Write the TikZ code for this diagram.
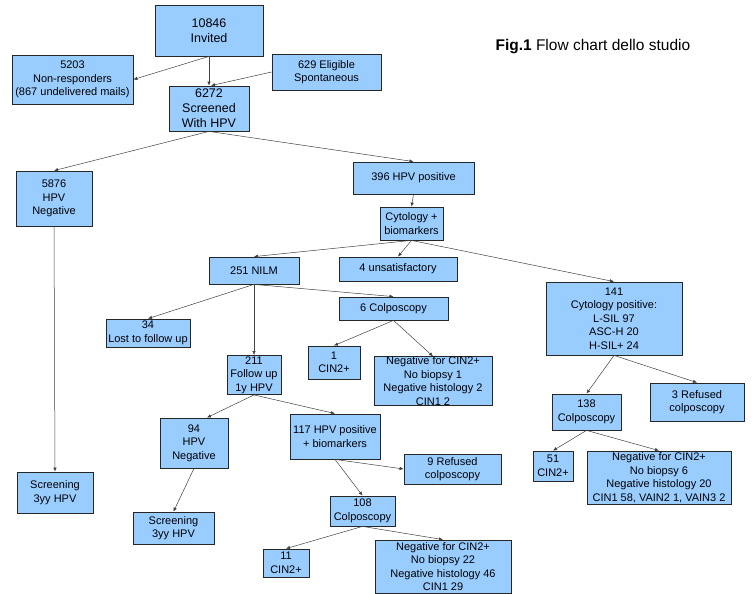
\documentclass[tikz,border=0pt]{standalone}
\usepackage{fontspec}
\setmainfont{Liberation Sans}
\usetikzlibrary{arrows.meta}

\definecolor{boxblue}{RGB}{153,204,255}

\tikzset{
  box/.style={draw=black!85, fill=boxblue, line width=0.8pt, align=center,
    inner sep=0pt, font=\fontsize{11}{13.5}\selectfont},
  bigbox/.style={box, font=\fontsize{12.5}{15}\selectfont},
  wh/.style 2 args={minimum width=#1pt, minimum height=#2pt},
  flow/.style={-{Latex[length=4pt,width=3.5pt]}, draw=black!75, line width=0.5pt},
}

\begin{document}
\begin{tikzpicture}[x=1pt,y=-1pt]
        \useasboundingbox (0,0) rectangle (755,594);

        % invitation and screening
        \node[bigbox, wh={108}{51}] (invited) at (209,30.5) {10846\\Invited};
        \node[box, wh={121}{49}] (nonresp) at (72.5,79.5) {5203\\Non-responders\\(867 undelivered mails)};
        \node[box, wh={109}{36}] (eligible) at (326.5,72) {629 Eligible\\Spontaneous};
        \node[bigbox, wh={80}{45}] (screened) at (209,108.5) {6272\\Screened\\With HPV};
        \node[anchor=west, font=\fontsize{15.5}{18}\selectfont] (caption) at (492,47) {\textbf{Fig.1} Flow chart dello studio};

        % HPV result
        \node[box, wh={76}{55}] (hpvneg) at (54,198.5) {5876\\HPV\\Negative};
        \node[box, wh={76}{41}] (screenA) at (55,492.5) {Screening\\3yy HPV};
        \node[box, wh={121}{32}] (hpvpos) at (413.5,178) {396 HPV positive};
        \node[box, wh={63}{33}] (cyto) at (411.5,223.5) {Cytology +\\biomarkers};

        % cytology
        \node[box, wh={90}{27}] (nilm) at (254,270.5) {251 NILM};
        \node[box, wh={118}{24}] (unsat) at (398,269) {4 unsatisfactory};
        \node[box, wh={136}{73}] (cytopos) at (614,318.5) {141\\Cytology positive:\\L-SIL 97\\ASC-H 20\\H-SIL+ 24};

        % NILM branch
        \node[box, wh={84}{28}] (lost) at (148,333) {34\\Lost to follow up};
        \node[box, wh={109}{23}] (colpoA) at (393.5,308.5) {6 Colposcopy};
        \node[box, wh={54}{39}] (followup) at (254,375) {211\\Follow up\\1y HPV};
        \node[box, wh={52}{33}] (cinA) at (334,362.5) {1\\CIN2+};
        \node[box, wh={118}{48}] (negA) at (433,381) {Negative for CIN2+\\No biopsy 1\\Negative histology 2\\CIN1 2};

        % follow up branch
        \node[box, wh={68}{50}] (hpvnegB) at (194,443) {94\\HPV\\Negative};
        \node[box, wh={81}{32}] (screenB) at (173.5,528) {Screening\\3yy HPV};
        \node[box, wh={90}{45}] (hpvposB) at (335,436.5) {117 HPV positive\\+ biomarkers};
        \node[box, wh={97}{30}] (refusedB) at (452.5,469) {9 Refused\\colposcopy};
        \node[box, wh={65}{30}] (colpoB) at (362.5,511) {108\\Colposcopy};
        \node[box, wh={46}{28}] (cinB) at (286,563) {11\\CIN2+};
        \node[box, wh={136}{53}] (negB) at (443,566.5) {Negative for CIN2+\\No biopsy 22\\Negative histology 46\\CIN1 29};

        % cytology positive branch
        \node[box, wh={69}{36}] (colpoC) at (586.5,412) {138\\Colposcopy};
        \node[box, wh={94}{38}] (refusedC) at (697,402) {3 Refused\\colposcopy};
        \node[box, wh={40}{30}] (cinC) at (553,466) {51\\CIN2+};
        \node[box, wh={144}{53}] (negC) at (659,477.5) {Negative for CIN2+\\No biopsy 6\\Negative histology 20\\CIN1 58, VAIN2 1, VAIN3 2};

        % connectors
        \draw[flow] (invited.south) -- (screened.north);
        \draw[flow] (invited.south) -- (nonresp.east);
        \draw[flow] (eligible.west) -- ([xshift=2pt]screened.north);
        \draw[flow] (screened.south) -- (hpvneg.north);
        \draw[flow] (screened.south) -- (hpvpos.north);
        \draw[flow] (hpvneg.south) -- (screenA.north);
        \draw[flow] (hpvpos.south) -- (cyto.north);
        \draw[flow] (cyto.south) -- (nilm.north);
        \draw[flow] (cyto.south) -- (unsat.north);
        \draw[flow] (cyto.south) -- (cytopos.north);
        \draw[flow] (nilm.south) -- (lost.north);
        \draw[flow] (nilm.south) -- (followup.north);
        \draw[flow] (nilm.south) -- (colpoA.north);
        \draw[flow] (colpoA.south) -- (cinA.north);
        \draw[flow] (colpoA.south) -- (negA.north);
        \draw[flow] (followup.south) -- ([xshift=13pt]hpvnegB.north);
        \draw[flow] (followup.south) -- (hpvposB.north);
        \draw[flow] (hpvnegB.south) -- (screenB.north);
        \draw[flow] (hpvposB.south) -- (refusedB.west);
        \draw[flow] (hpvposB.south) -- (colpoB.north);
        \draw[flow] (colpoB.south) -- (cinB.north);
        \draw[flow] (colpoB.south) -- (negB.north);
        \draw[flow] (cytopos.south) -- (colpoC.north);
        \draw[flow] (cytopos.south) -- (refusedC.north);
        \draw[flow] (colpoC.south) -- (cinC.north);
        \draw[flow] (colpoC.south) -- (negC.north);
\end{tikzpicture}
\end{document}
